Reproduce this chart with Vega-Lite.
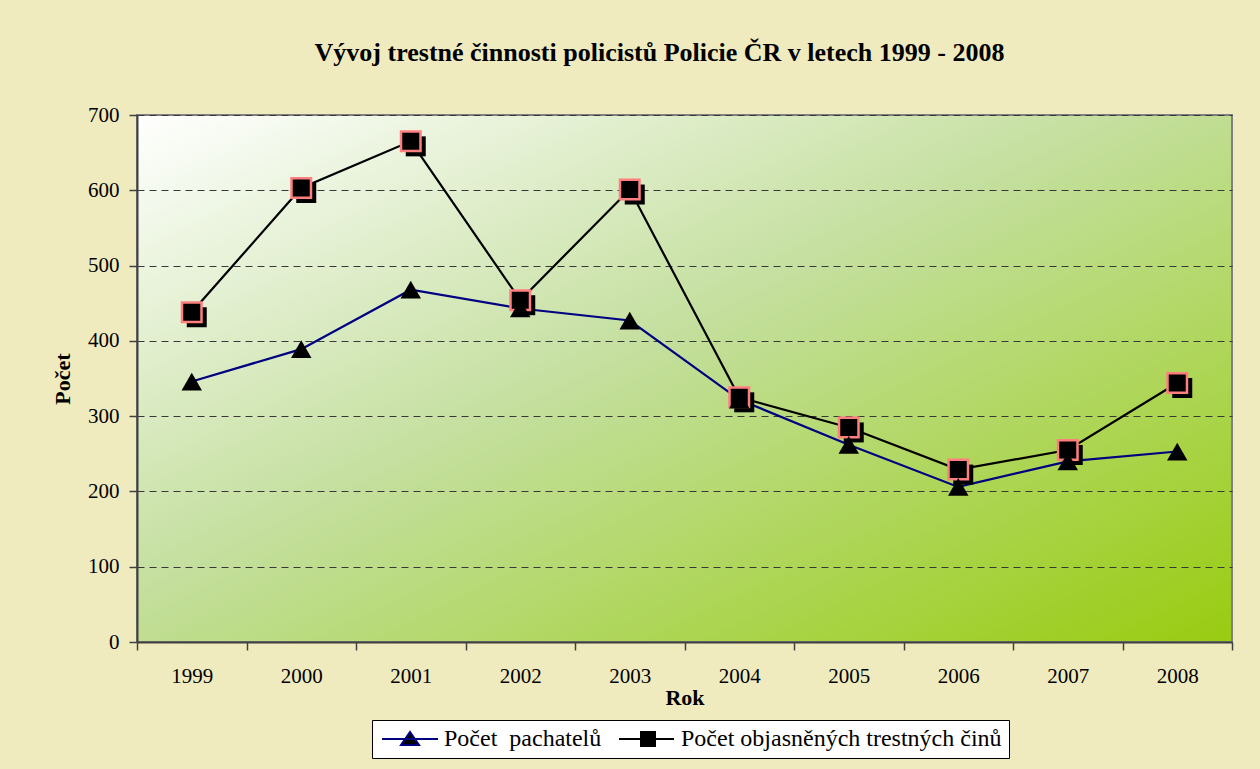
{
  "$schema": "https://vega.github.io/schema/vega-lite/v6.json",
  "autosize": {"type": "none"},
  "width": 1095,
  "height": 527,
  "padding": {"left": 137, "top": 115, "right": 28, "bottom": 127},
  "background": "#efebbf",
  "title": {
    "text": "Vývoj trestné činnosti policistů Policie ČR v letech 1999 - 2008",
    "font": "Liberation Serif",
    "fontSize": 26,
    "fontWeight": "bold",
    "color": "black",
    "anchor": "middle",
    "dx": -25,
    "offset": 38
  },
  "config": {
    "view": {
      "fill": {
        "gradient": "linear",
        "x1": 0, "y1": 0, "x2": 1, "y2": 1,
        "stops": [
          {"offset": 0, "color": "#ffffff"},
          {"offset": 0.45, "color": "#c4df9e"},
          {"offset": 1, "color": "#98cc10"}
        ]
      },
      "stroke": "#808080",
      "strokeWidth": 2
    },
    "axis": {
      "labelFont": "Liberation Serif",
      "labelFontSize": 21,
      "labelColor": "black",
      "titleFont": "Liberation Serif",
      "titleFontSize": 22,
      "titleFontWeight": "bold",
      "titleColor": "black",
      "domainColor": "#404040",
      "domainWidth": 2,
      "tickColor": "#404040",
      "tickWidth": 1.5,
      "tickSize": 8
    }
  },
  "data": {
    "values": [
      {"rok": "1999", "serie": "Počet  pachatelů", "pocet": 346},
      {"rok": "2000", "serie": "Počet  pachatelů", "pocet": 389},
      {"rok": "2001", "serie": "Počet  pachatelů", "pocet": 468},
      {"rok": "2002", "serie": "Počet  pachatelů", "pocet": 443},
      {"rok": "2003", "serie": "Počet  pachatelů", "pocet": 427},
      {"rok": "2004", "serie": "Počet  pachatelů", "pocet": 322},
      {"rok": "2005", "serie": "Počet  pachatelů", "pocet": 262},
      {"rok": "2006", "serie": "Počet  pachatelů", "pocet": 206},
      {"rok": "2007", "serie": "Počet  pachatelů", "pocet": 240},
      {"rok": "2008", "serie": "Počet  pachatelů", "pocet": 253},
      {"rok": "1999", "serie": "Počet objasněných trestných činů", "pocet": 438},
      {"rok": "2000", "serie": "Počet objasněných trestných činů", "pocet": 603},
      {"rok": "2001", "serie": "Počet objasněných trestných činů", "pocet": 665},
      {"rok": "2002", "serie": "Počet objasněných trestných činů", "pocet": 454},
      {"rok": "2003", "serie": "Počet objasněných trestných činů", "pocet": 601},
      {"rok": "2004", "serie": "Počet objasněných trestných činů", "pocet": 325},
      {"rok": "2005", "serie": "Počet objasněných trestných činů", "pocet": 285},
      {"rok": "2006", "serie": "Počet objasněných trestných činů", "pocet": 229},
      {"rok": "2007", "serie": "Počet objasněných trestných činů", "pocet": 255},
      {"rok": "2008", "serie": "Počet objasněných trestných činů", "pocet": 344}
    ]
  },
  "encoding": {
    "x": {
      "field": "rok",
      "type": "ordinal",
      "scale": {"type": "band", "paddingInner": 0, "paddingOuter": 0},
      "axis": {
        "title": "Rok",
        "labelAngle": 0,
        "tickBand": "extent",
        "labelPadding": 15,
        "titlePadding": 1
      }
    },
    "y": {
      "field": "pocet",
      "type": "quantitative",
      "scale": {"domain": [0, 700]},
      "axis": {
        "title": "Počet",
        "values": [0, 100, 200, 300, 400, 500, 600, 700],
        "labelPadding": 10,
        "titlePadding": 13,
        "grid": true,
        "gridColor": "#383838",
        "gridDash": [7, 5],
        "gridWidth": 1
      }
    }
  },
  "layer": [
    {
      "mark": {"type": "line", "strokeWidth": 2.2},
      "encoding": {
        "color": {
          "field": "serie",
          "type": "nominal",
          "scale": {
            "domain": ["Počet  pachatelů", "Počet objasněných trestných činů"],
            "range": ["#000080", "#000000"]
          },
          "legend": {
            "orient": "none",
            "legendX": 235,
            "legendY": 605,
            "direction": "horizontal",
            "title": null,
            "symbolSize": 400,
            "symbolStrokeWidth": 2,
            "labelOffset": 41,
            "columnPadding": 13,
            "padding": 7,
            "strokeColor": "black",
            "fillColor": "white",
            "labelFont": "Liberation Serif",
            "labelFontSize": 24,
            "labelColor": "black",
            "labelLimit": 500,
            "labelExpr": "replace(datum.label, '  ', ' \u00a0')",
            "encode": {
              "symbols": {
                "update": {
                  "shape": {"signal": "datum.value === 'Počet  pachatelů' ? 'M-0.9,0H4.7M1.0,0.6L1.9,-0.7L2.8,0.6Z' : 'M-0.9,0H4.6M1.3,-0.7H2.7V0.7H1.3Z'"},
                  "fill": {"value": "black"},
                  "fillOpacity": {"value": 1},
                  "opacity": {"value": 1}
                }
              }
            }
          }
        }
      }
    },
    {
      "transform": [{"filter": "datum.serie === 'Počet objasněných trestných činů'"}],
      "mark": {"type": "point", "shape": "square", "filled": true, "color": "black", "size": 400, "opacity": 1, "xOffset": 5, "yOffset": 5}
    },
    {
      "transform": [{"filter": "datum.serie === 'Počet objasněných trestných činů'"}],
      "mark": {"type": "point", "shape": "square", "filled": true, "fill": "black", "stroke": "#ff7f7f", "strokeWidth": 2.5, "size": 380, "opacity": 1}
    },
    {
      "transform": [{"filter": "datum.serie === 'Počet  pachatelů'"}],
      "mark": {"type": "point", "shape": "triangle-up", "filled": true, "color": "black", "size": 420, "opacity": 1}
    }
  ]
}
